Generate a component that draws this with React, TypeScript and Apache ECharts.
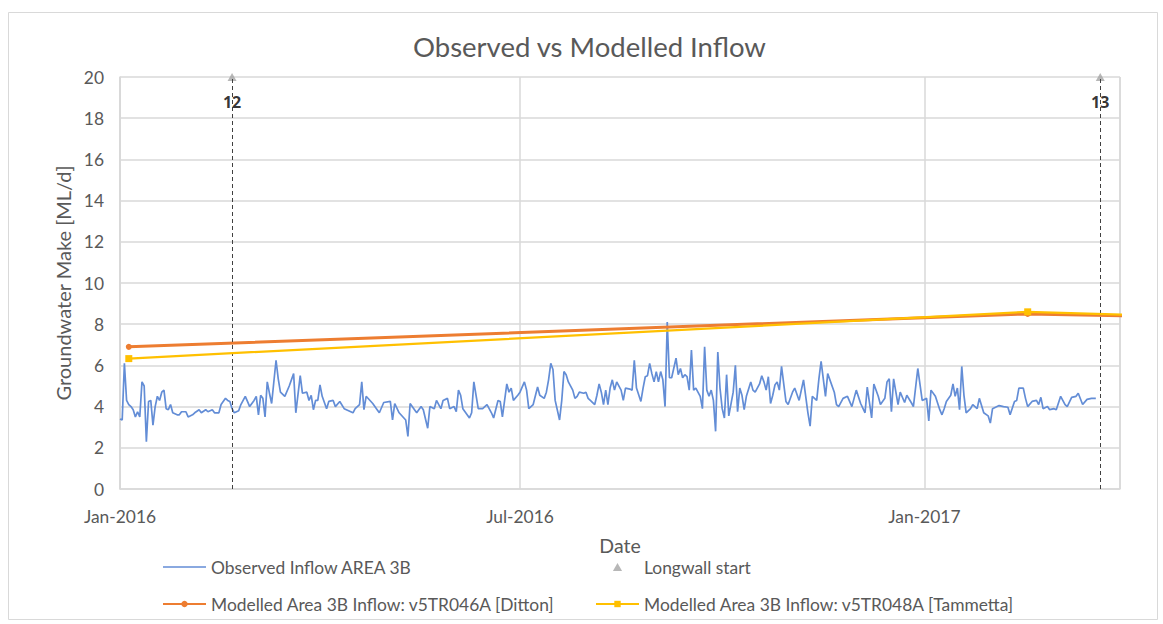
import React, { useEffect, useRef } from 'react';
import * as echarts from 'echarts';

// Observed inflow: [days since 1 Jan 2016, ML/d]
const observedInflow: [number, number][] = [
  [0, 3.4], [1, 3.35], [2, 6.1], [3, 4.3], [4, 4.1], [5, 4.0], [6, 3.85], [7, 3.5], [8, 3.75], [9, 3.5],
  [10, 5.2], [11, 5.0], [12, 2.3], [13, 4.25], [14, 4.3], [15, 3.1], [16, 4.0], [17, 4.5], [18, 4.3], [19, 4.7],
  [20, 4.8], [21, 3.9], [22, 3.85], [23, 4.1], [24, 3.7], [26, 3.6], [27, 3.6], [28, 3.75], [30, 3.75], [31, 3.5],
  [33, 3.6], [34, 3.7], [36, 3.85], [37, 3.7], [39, 3.85], [40, 3.75], [42, 3.85], [43, 3.7], [45, 3.7], [46, 4.1],
  [48, 4.4], [49, 4.3], [50, 4.25], [51, 3.9], [52, 3.7], [54, 3.8], [55, 4.1], [57, 4.5], [58, 4.25], [59, 4.0],
  [61, 4.3], [62, 4.5], [63, 3.6], [64, 4.55], [65, 4.4], [66, 3.5], [67, 5.2], [68, 4.65], [69, 4.15], [71, 6.25],
  [72, 5.35], [73, 4.7],
  [75, 4.5], [77, 5.0], [79, 5.6], [80, 3.7], [82, 5.5], [83, 4.65], [85, 4.7], [86, 4.3], [87, 4.55], [88, 3.85],
  [89, 4.3], [90, 4.3], [91, 5.05], [92, 4.5], [94, 3.9], [95, 4.25], [97, 4.3], [98, 4.0], [100, 4.25], [102, 3.9],
  [104, 3.8], [106, 3.7], [107, 3.9], [109, 4.1], [110, 5.2], [111, 3.85], [112, 4.5], [115, 4.15], [117, 3.85], [118, 3.7],
  [120, 4.2], [123, 4.25], [124, 3.35], [125, 4.15], [127, 3.7], [130, 3.35], [131, 2.55], [132, 4.15], [134, 3.85], [135, 3.7],
  [137, 4.0], [138, 3.85], [140, 2.95], [141, 4.0], [143, 3.9], [144, 4.3], [146, 3.9], [147, 4.3], [149, 4.4],
  [150, 3.9], [152, 4.0], [153, 3.75], [154, 4.8], [155, 4.55], [156, 3.9], [159, 3.45], [160, 3.7], [161, 5.2], [163, 3.9],
  [165, 3.9], [167, 4.1], [169, 3.7], [170, 3.45], [172, 4.3], [173, 4.25], [174, 3.5], [176, 5.1], [177, 4.7], [178, 4.9],
  [179, 4.3], [181, 4.55], [182, 4.7], [184, 5.2], [185, 4.8], [186, 3.9], [188, 4.1], [190, 4.95], [191, 4.55], [193, 4.4],
  [194, 4.7], [195, 5.3], [196, 6.1], [197, 5.8], [198, 4.3], [200, 3.35], [201, 4.3], [202, 5.7], [203, 5.55], [204, 5.2],
  [206, 4.8], [207, 4.4], [208, 4.5], [209, 4.7], [211, 4.65], [212, 4.7], [213, 4.4], [214, 4.3], [216, 4.1], [217, 4.55],
  [218, 5.1], [219, 4.7], [220, 4.1], [221, 4.8], [222, 4.1], [223, 4.9],
  [224, 5.3], [225, 4.8], [226, 5.2], [228, 4.8], [229, 4.3], [230, 4.9], [232, 4.85], [233, 4.8], [234, 6.25], [235, 4.9],
  [237, 4.25], [238, 4.9], [239, 5.45], [240, 5.5], [241, 6.1], [242, 5.6], [243, 5.2], [244, 5.7], [245, 5.2], [246, 5.7],
  [247, 5.3], [248, 4.0], [249, 8.1], [250, 5.4], [251, 5.4], [253, 6.35], [254, 5.55], [255, 5.85], [256, 5.4], [257, 5.55],
  [258, 5.45], [259, 4.8], [260, 6.75], [261, 4.8], [262, 4.9], [264, 4.5], [265, 3.9], [266, 6.9], [267, 4.8], [268, 4.5],
  [269, 4.8], [270, 4.3], [271, 2.8], [272, 6.65], [273, 4.9], [274, 3.9], [275, 3.45], [276, 5.55], [277, 3.55], [279, 4.7],
  [280, 6.0], [281, 3.75], [282, 4.9], [283, 4.55], [284, 3.85], [285, 4.5], [287, 5.2], [288, 4.8], [289, 4.7], [291, 5.1],
  [292, 5.5], [293, 5.2], [294, 4.8], [295, 5.45], [296, 4.15], [297, 4.55], [298, 5.05], [299, 5.2],
  [300, 4.8], [301, 5.95], [303, 4.25], [304, 4.1], [306, 4.7], [307, 4.9], [309, 4.3], [311, 5.3], [313, 3.7], [314, 3.05],
  [315, 4.5], [317, 4.3], [318, 5.35], [319, 6.2], [320, 5.35], [321, 4.5], [322, 5.6], [325, 4.7], [326, 4.1], [327, 4.0],
  [329, 4.4], [331, 4.5], [333, 4.0], [335, 4.8], [337, 4.15], [339, 3.7], [340, 4.95], [342, 3.45], [343, 5.1], [345, 4.5],
  [346, 4.1], [348, 4.4], [349, 5.2], [350, 5.35], [351, 3.75], [352, 5.35], [354, 4.1], [355, 4.7], [357, 4.2], [358, 4.55],
  [360, 4.2], [361, 4.0], [363, 5.85], [365, 4.3], [367, 4.4], [368, 3.3], [369, 4.8], [371, 4.5], [373, 3.85], [374, 3.6],
  [375, 3.9],
  [376, 4.25], [378, 4.55], [379, 5.1], [380, 4.5], [381, 4.9], [382, 3.85], [383, 5.95], [384, 4.55], [385, 3.7], [387, 3.9],
  [388, 4.1], [390, 3.9], [391, 4.4], [393, 3.7], [395, 3.55], [396, 3.2], [397, 3.9], [400, 4.05], [402, 4.0], [404, 3.97],
  [405, 3.6], [407, 4.25], [408, 4.3], [409, 4.9], [411, 4.9], [412, 4.4], [413, 4.0], [415, 4.25], [417, 4.3], [418, 4.1],
  [419, 4.45], [420, 3.9], [422, 4.0], [423, 3.85], [425, 3.9], [426, 3.85], [428, 4.5], [430, 4.1], [431, 4.0], [433, 4.45],
  [435, 4.5], [436, 4.65], [438, 4.1], [440, 4.35], [442, 4.4], [444, 4.4],
];

const modelDates = ['2016-01-05', '2017-02-17', '2017-05-21'];
const dittonValues = [6.9, 8.5, 8.3];
const tammettaValues = [6.33, 8.6, 8.3];

const longwallDates = ['2016-02-21', '2017-03-22'];
const longwallLabels = ['12', '13'];
const longwallLevel = 20;

const xLabelDates = ['2016-01-01', '2016-07-01', '2017-01-01'];
const xMinDate = '2016-01-01';
const xMaxDate = '2017-03-31';

const TITLE = 'Observed vs Modelled Inflow';
const S_OBS = 'Observed Inflow AREA 3B';
const S_LW = 'Longwall start';
const S_DIT = 'Modelled Area 3B Inflow: v5TR046A [Ditton]';
const S_TAM = 'Modelled Area 3B Inflow: v5TR048A [Tammetta]';

const FONT = 'Lato, "Noto Sans", sans-serif';
const BOLD_FONT = '"Open Sans", "Noto Sans", sans-serif';
const GREY_TEXT = '#595959';
const GRID_COLOR = '#D9D9D9';
const OBS_COLOR = '#638DD6';

function ts(s: string): number {
  const [y, m, d] = s.split('-').map(Number);
  return new Date(y, m - 1, d).getTime();
}
function dayTs(day: number): number {
  return new Date(2016, 0, 1 + day).getTime();
}

export default function App() {
  const ref = useRef<HTMLDivElement>(null);
  useEffect(() => {
    if (!ref.current) return;
    const chart = echarts.init(ref.current, undefined, { renderer: 'svg' });
    const xMin = ts(xMinDate);
    const xMax = ts(xMaxDate);
    const labelTs = xLabelDates.map(ts);
    const legendText = { fontFamily: FONT, fontSize: 17.4, color: GREY_TEXT, lineHeight: 20 };
    const legendCommon = {
      orient: 'vertical',
      top: 557,
      padding: 0,
      itemWidth: 43,
      itemHeight: 8,
      itemGap: 17,
      selectedMode: false,
      symbolKeepAspect: true,
      textStyle: legendText,
    };
    const option: any = {
      animation: false,
      backgroundColor: '#ffffff',
      textStyle: { fontFamily: FONT },
      title: {
        text: TITLE,
        left: 413,
        top: 32,
        padding: 0,
        textStyle: { fontFamily: FONT, fontSize: 27.5, fontWeight: 'normal', color: GREY_TEXT },
      },
      grid: { left: 120, right: 43, top: 77, bottom: 135, containLabel: false },
      xAxis: {
        type: 'time',
        min: xMin,
        max: xMax,
        name: 'Date',
        nameLocation: 'middle',
        nameGap: 46,
        nameTextStyle: { fontFamily: FONT, fontSize: 19.5, color: GREY_TEXT },
        axisLine: { show: true, lineStyle: { color: GRID_COLOR, width: 1.5 } },
        axisTick: { show: false, customValues: [...labelTs, xMax] },
        axisLabel: {
          customValues: labelTs,
          formatter: '{MMM}-{yyyy}',
          color: GREY_TEXT,
          fontFamily: FONT,
          fontSize: 17.4,
          margin: 19,
          hideOverlap: false,
        },
        splitLine: { show: true, lineStyle: { color: GRID_COLOR, width: 1.5 } },
      },
      yAxis: {
        type: 'value',
        min: 0,
        max: 20,
        interval: 2,
        name: 'Groundwater Make [ML/d]',
        nameLocation: 'middle',
        nameGap: 44,
        nameTextStyle: { fontFamily: FONT, fontSize: 20, color: GREY_TEXT },
        axisLine: { show: true, lineStyle: { color: GRID_COLOR, width: 1.5 } },
        axisTick: { show: false },
        axisLabel: { color: GREY_TEXT, fontFamily: FONT, fontSize: 17.4, margin: 16 },
        splitLine: { show: true, lineStyle: { color: GRID_COLOR, width: 1.5 } },
      },
      legend: [
        {
          ...legendCommon,
          left: 162,
          data: [
            { name: S_OBS, icon: 'path://M0,0 L86,0 L86,3 L0,3 Z' },
            S_DIT,
          ],
        },
        {
          ...legendCommon,
          left: 595,
          data: [
            { name: S_LW, icon: 'path://M4,0 L8,7 L0,7 Z' },
            S_TAM,
          ],
        },
      ],
      series: [
        {
          name: S_LW,
          type: 'scatter',
          clip: false,
          symbol: 'triangle',
          symbolSize: [9, 8],
          itemStyle: { color: '#A5A5A5' },
          label: {
            show: true,
            position: 'bottom',
            distance: 13,
            formatter: (p: any) => p.name,
            fontFamily: BOLD_FONT,
            fontSize: 16,
            fontWeight: 'bold',
            color: '#000000',
          },
          data: longwallDates.map((d, i) => ({ name: longwallLabels[i], value: [ts(d), longwallLevel] })),
          markLine: {
            silent: true,
            symbol: ['none', 'none'],
            label: { show: false },
            lineStyle: { color: '#404040', type: [4, 3], width: 1 },
            data: longwallDates.map((d) => ({ xAxis: ts(d) })),
          },
          z: 1,
        },
        {
          name: S_OBS,
          type: 'line',
          symbol: 'none',
          showSymbol: false,
          lineStyle: { color: OBS_COLOR, width: 1.7 },
          itemStyle: { color: OBS_COLOR },
          data: observedInflow.map(([d, v]) => [dayTs(d), v]),
          z: 3,
        },
        {
          name: S_DIT,
          type: 'line',
          symbol: 'circle',
          symbolSize: 6,
          lineStyle: { color: '#ED7D31', width: 3 },
          itemStyle: { color: '#ED7D31' },
          data: modelDates.map((d, i) => [ts(d), dittonValues[i]]),
          z: 4,
        },
        {
          name: S_TAM,
          type: 'line',
          symbol: 'rect',
          symbolSize: 7,
          lineStyle: { color: '#FFC000', width: 2.25 },
          itemStyle: { color: '#FFC000' },
          data: modelDates.map((d, i) => [ts(d), tammettaValues[i]]),
          z: 5,
        },
      ],
      graphic: [
        {
          type: 'rect',
          silent: true,
          z: -10,
          shape: { x: 8.5, y: 12.5, width: 1149, height: 607 },
          style: { fill: 'none', stroke: GRID_COLOR, lineWidth: 1 },
        },
      ],
    };
    chart.setOption(option);
    return () => chart.dispose();
  }, []);
  return (
    <div
      ref={ref}
      style={{ position: 'fixed', left: 0, top: 0, width: 1163, height: 624, background: '#fff' }}
    />
  );
}
